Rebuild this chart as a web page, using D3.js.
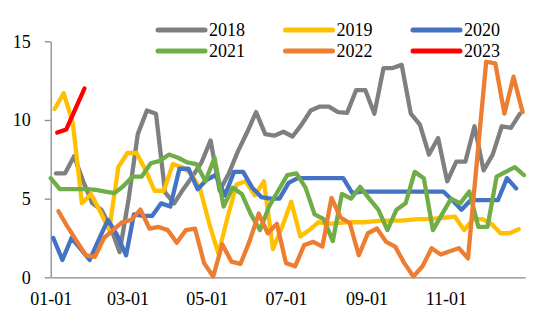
<!DOCTYPE html>
<html>
<head>
<meta charset="utf-8">
<script src="https://cdn.jsdelivr.net/npm/d3@7"></script>
<style>
  html, body { margin: 0; padding: 0; background: #fff; }
  svg { display: block; }
  text { font-family: "Liberation Serif", "Times New Roman", serif; fill: #000; }
</style>
</head>
<body>
<svg id="chart" width="550" height="323"></svg>
<script>
// ---------------- DATA ----------------
const seriesNames = ["2018", "2019", "2020", "2021", "2022", "2023"];
// first weekly observation of each year (weekly Friday data)
const firstDates = ["2018-01-05", "2019-01-04", "2020-01-03", "2021-01-01", "2022-01-07", "2023-01-06"];

const v2018 = [6.6, 6.6, 7.7, 6.1, 4.7, 4.3, 3.2, 1.6, 5.0, 9.1, 10.6, 10.4, 5.4, 4.7, 5.6, 6.4, 7.3, 8.7,
  5.5, 6.6, 8.0, 9.2, 10.5, 9.1, 9.0, 9.25, 8.95, 9.7, 10.6, 10.85, 10.85, 10.5, 10.45, 11.9, 11.9, 10.4,
  13.3, 13.3, 13.5, 10.4, 9.7, 7.8, 8.85, 6.1, 7.35, 7.35, 9.6, 6.8, 7.8, 9.6, 9.5, 10.4];
const v2019 = [10.7, 11.7, 9.8, 4.7, 5.3, 4.2, 3.0, 7.0, 7.9, 7.9, 6.8, 5.5, 5.5, 7.2, 7.0, 6.6, 5.6, 3.4,
  1.5, 3.8, 5.9, 6.1, 5.2, 6.1, 1.8, 3.2, 4.8, 2.6, 3.0, 3.5, 3.4, 3.45, 3.5, 3.5, 3.5, 3.55, 3.6, 3.6,
  3.6, 3.65, 3.7, 3.7, 3.75, 3.8, 3.85, 3.0, 3.7, 3.7, 3.4, 2.8, 2.8, 3.05];
const v2020 = [2.5, 1.1, 2.5, 1.8, 1.1, 2.4, 3.65, 2.7, 1.4, 4.0, 3.9, 3.9, 4.7, 4.5, 6.9, 6.9, 5.6, 6.2,
  6.5, 5.2, 6.7, 6.7, 5.7, 5.1, 5.0, 5.0, 6.0, 6.3, 6.3, 6.3, 6.3, 6.3, 6.3, 5.35, 5.45, 5.45, 5.45, 5.45,
  5.45, 5.45, 5.45, 5.45, 5.45, 5.45, 4.9, 4.3, 4.9, 4.9, 4.9, 4.9, 6.3, 5.65];
const v2021 = [6.3, 5.6, 5.6, 5.6, 5.6, 5.55, 5.45, 5.35, 5.8, 6.4, 6.4, 7.25, 7.4, 7.8, 7.6, 7.3, 7.2, 6.1,
  7.6, 4.5, 5.7, 5.3, 4.0, 3.0, 4.5, 5.5, 6.5, 6.6, 5.7, 4.0, 3.7, 2.3, 5.3, 5.0, 5.75, 5.0, 4.3, 3.0,
  4.3, 4.7, 6.7, 6.3, 3.0, 4.0, 5.0, 4.7, 5.45, 3.2, 3.2, 6.4, 6.7, 7.0, 6.5];
const v2022 = [4.2, 3.2, 2.3, 1.4, 1.3, 2.5, 3.0, 3.5, 3.65, 4.3, 3.1, 3.2, 3.0, 2.2, 3.0, 3.1, 0.9, 0.05,
  2.1, 1.0, 0.85, 2.3, 4.05, 2.8, 3.4, 0.9, 0.7, 2.05, 2.25, 1.95, 5.05, 3.8, 3.45, 1.4, 2.8, 3.1, 2.25,
  1.95, 0.9, 0.05, 0.7, 1.85, 1.45, 1.65, 1.85, 1.2, 7.5, 13.7, 13.6, 10.4, 12.75, 10.5];
const v2023 = [9.2, 9.4, 10.7, 12.0];

const seriesValues = [v2018, v2019, v2020, v2021, v2022, v2023];
const seriesColors = ["#7f7f7f", "#ffc000", "#4472c4", "#70ad47", "#ed7d31", "#ff0000"];

const xTickDates = ["01-01", "03-01", "05-01", "07-01", "09-01", "11-01"];
const yTicks = [0, 5, 10, 15];

// ---------------- CHART ----------------
const BASE = 2019; // common month-day axis
const svg = d3.select("#chart");

const x = d3.scaleTime()
  .domain([new Date(BASE, 0, 1), new Date(BASE + 1, 0, 1)])
  .range([50.7, 525.2]);
const y = d3.scaleLinear().domain([0, 15]).range([277.3, 41.3]);

function toPoints(first, values) {
  const [yy, mm, dd] = first.split("-").map(Number);
  return values.map((v, i) => {
    const d = new Date(yy, mm - 1, dd + 7 * i);
    return { date: new Date(BASE, d.getMonth(), d.getDate()), value: v };
  });
}

const axisColor = "#898989";

// Y axis
const yAxis = svg.append("g")
  .attr("transform", `translate(${x.range()[0]},0)`)
  .call(d3.axisLeft(y).tickValues(yTicks).tickSize(6).tickSizeOuter(0).tickPadding(14));
yAxis.select(".domain").attr("stroke", axisColor).attr("stroke-width", 1.3);
yAxis.selectAll(".tick line").attr("stroke", axisColor).attr("stroke-width", 1.3);
yAxis.selectAll(".tick text")
  .style("font-family", '"Liberation Serif", "Times New Roman", serif')
  .style("font-size", "18px").attr("fill", "#000");

// X axis
const xAxis = svg.append("g")
  .attr("transform", `translate(0,${y(0)})`)
  .call(d3.axisBottom(x)
    .tickValues(xTickDates.map(s => { const [m, d] = s.split("-").map(Number); return new Date(BASE, m - 1, d); }))
    .tickFormat((d, i) => xTickDates[i])
    .tickSize(0).tickSizeOuter(0).tickPadding(15));
xAxis.select(".domain").attr("stroke", axisColor).attr("stroke-width", 1.3);
xAxis.selectAll(".tick text")
  .style("font-family", '"Liberation Serif", "Times New Roman", serif')
  .style("font-size", "18px").attr("fill", "#000");

// Lines
const line = d3.line().x(d => x(d.date)).y(d => y(d.value));
svg.append("g").selectAll("path")
  .data(seriesNames.map((n, i) => ({ name: n, color: seriesColors[i], pts: toPoints(firstDates[i], seriesValues[i]) })))
  .join("path")
  .attr("d", d => line(d.pts))
  .attr("fill", "none")
  .attr("stroke", d => d.color)
  .attr("stroke-width", 4.3)
  .attr("stroke-linejoin", "round")
  .attr("stroke-linecap", "round");

// Legend
const leg = svg.append("g").selectAll("g")
  .data(seriesNames)
  .join("g")
  .attr("transform", (d, i) => `translate(${158 + (i % 3) * 127.5},${30 + Math.floor(i / 3) * 21})`);
leg.append("line")
  .attr("x1", 0).attr("x2", 47).attr("y1", 0).attr("y2", 0)
  .attr("stroke", (d, i) => seriesColors[i])
  .attr("stroke-width", 5)
  .attr("stroke-linecap", "round");
leg.append("text")
  .attr("x", 51).attr("y", 0).attr("dy", "0.35em")
  .style("font-size", "18px")
  .text(d => d);
</script>
</body>
</html>
